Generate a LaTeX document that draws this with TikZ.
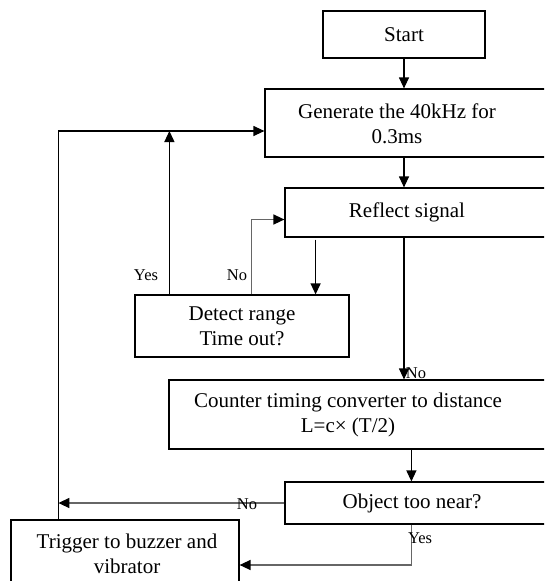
\documentclass[tikz,border=0pt]{standalone}
\usepackage{fontspec}
\setmainfont{Liberation Serif}
\usetikzlibrary{arrows.meta,fit,calc}
\begin{document}
\begin{tikzpicture}[x=1pt,y=-1pt,
  line width=1.2pt,
  box/.style={draw=black, line width=1.2pt, rectangle, inner sep=0pt},
  frame/.style={draw=black, line width=1.2pt, rectangle, inner sep=0pt},
  txt/.style={font=\fontsize{21}{25}\selectfont, align=center, inner sep=0pt},
  lbl/.style={font=\fontsize{16.5}{19}\selectfont, inner sep=0pt},
  arr/.style={-{Triangle[length=11pt,width=10pt]}},
  garr/.style={draw=black!60, line width=1.4pt, -{Triangle[length=11pt,width=10pt,color=black]}}]
\useasboundingbox (0,0) rectangle (544,581);
\clip (0,0) rectangle (544,581);
\fill[white] (0,0) rectangle (544,581);

% boxes
\node[box, txt, minimum width=162pt, minimum height=47pt] (start) at (404,34.5) {Start};
\node[frame, fit={(265,89) (580,157)}] (gen) {};
\node[txt] (gent) at (397,124) {Generate the 40kHz for\\0.3ms};
\node[frame, fit={(285,188) (580,237)}] (refl) {};
\node[txt] (reflt) at (407,212) {Reflect signal};
\node[box, txt, minimum width=214pt, minimum height=62pt] (det) at (242,326) {Detect range\\Time out?};
\node[frame, fit={(169,380) (580,449)}] (cnt) {};
\node[txt] (cntt) at (348,415) {Counter timing converter to distance\\L=c× (T/2)};
\node[frame, fit={(285,482) (580,524)}] (obj) {};
\node[txt] (objt) at (412,503) {Object too near?};
\node[frame, fit={(11,520) (239,610)}] (trig) {};
\node[txt] (trigt) at (127,554) {Trigger to buzzer and\\vibrator};

% helper coordinates
\coordinate (loopx) at ([xshift=48pt]trig.north west);
\coordinate (loopin) at ([yshift=-8pt]gen.west);
\coordinate (detyes) at ([xshift=35pt]det.north west);
\coordinate (detno) at ([xshift=117pt]det.north west);
\coordinate (detin) at ([xshift=-34pt]det.north east);
\coordinate (objx) at ([xshift=127pt]obj.north west);
\coordinate (objy) at ([xshift=127pt]obj.south west);

% connectors
\draw[arr] (start.south) -- (start.south |- gen.north);
\draw[arr] (gen.south -| start.south) -- (refl.north -| start.south);
\draw[arr] ([yshift=-2pt]refl.south -| detin) -- (detin);
\draw[arr] (refl.south -| start.south) -- (cnt.north -| start.south);
\draw[arr] (cnt.south -| objx) -- (objx);
\draw[arr] (loopx) |- (loopin);
\draw[arr] (detyes) -- (detyes |- loopin);
\draw[garr] (detno) |- ([yshift=-7pt]refl.west);
\draw[garr] (obj.west) -- (obj.west -| loopx);
\draw[garr] (objy) |- (trig.east);

% labels
\node[lbl] (lyes1) at (146,275) {Yes};
\node[lbl] (lno1) at (237,275) {No};
\node[lbl] (lno2) at (416,373) {No};
\node[lbl] (lno3) at (247,504) {No};
\node[lbl] (lyes2) at (420,538) {Yes};
\end{tikzpicture}
\end{document}
